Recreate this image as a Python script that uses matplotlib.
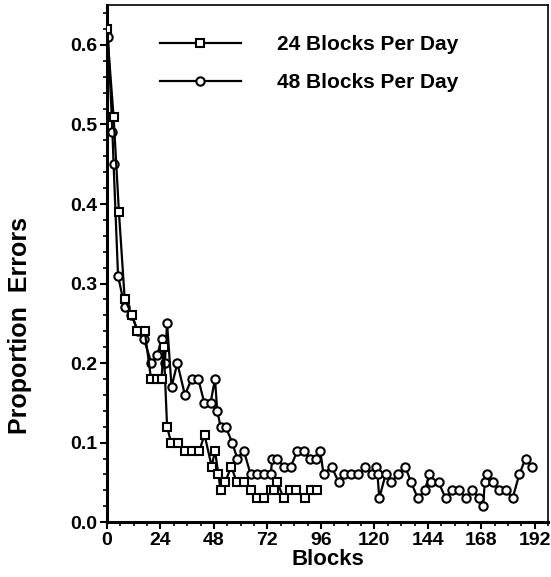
import numpy as np
import matplotlib
matplotlib.use("Agg")
import matplotlib.pyplot as plt
from matplotlib.ticker import MultipleLocator

plt.rcParams['font.family'] = ['Liberation Sans', 'DejaVu Sans']
plt.rcParams['font.weight'] = 'bold'

# 24 blocks per day (squares)
blocks24 = [0, 3, 5.4, 8, 11.4, 13.7, 17, 19.8, 22.3, 24.5, 25.5, 27, 28.8, 32, 35,
            38.3, 41.5, 43.8, 47, 48.5, 50, 51, 53, 55.8, 58.3, 61.3, 64.5, 67.5,
            70.5, 73.5, 74.8, 76.5, 79.3, 82.2, 85, 88.7, 91.5, 94.3]
err24 = [0.62, 0.51, 0.39, 0.28, 0.26, 0.24, 0.24, 0.18, 0.18, 0.18, 0.22, 0.12, 0.10,
         0.10, 0.09, 0.09, 0.09, 0.11, 0.07, 0.09, 0.06, 0.04, 0.05, 0.07, 0.05, 0.05,
         0.04, 0.03, 0.03, 0.04, 0.04, 0.05, 0.03, 0.04, 0.04, 0.03, 0.04, 0.04]

# 48 blocks per day (circles)
blocks48 = [0.5, 2.5, 3, 5, 8, 11, 14, 16.6, 20, 22.6, 24.5, 26, 27, 29, 31.6, 35, 38,
            41, 43.7, 46.5, 48.5, 49.5, 51, 53.3, 56.2, 58.5, 61.4, 64.5, 67.5, 70.5,
            73.5, 74.2, 76.5, 79.3, 82.5, 85.5, 88.5, 91, 94, 95.7, 97.2, 100.8, 104,
            106.5, 109.5, 112.8, 116, 118.8, 120.6, 121.4, 122.2, 125, 127.5, 130.5,
            133.8, 136.5, 139.5, 142.7, 144.6, 145.5, 148.8, 152, 155, 158, 161, 164,
            167, 168.8, 169.5, 170.6, 173, 176, 179, 182, 185, 187.8, 190.8]
err48 = [0.61, 0.49, 0.45, 0.31, 0.27, 0.26, 0.24, 0.23, 0.20, 0.21, 0.23, 0.20, 0.25,
         0.17, 0.20, 0.16, 0.18, 0.18, 0.15, 0.15, 0.18, 0.14, 0.12, 0.12, 0.10, 0.08,
         0.09, 0.06, 0.06, 0.06, 0.06, 0.08, 0.08, 0.07, 0.07, 0.09, 0.09, 0.08, 0.08,
         0.09, 0.06, 0.07, 0.05, 0.06, 0.06, 0.06, 0.07, 0.06, 0.07, 0.06, 0.03, 0.06,
         0.05, 0.06, 0.07, 0.05, 0.03, 0.04, 0.06, 0.05, 0.05, 0.03, 0.04, 0.04, 0.03,
         0.04, 0.03, 0.02, 0.05, 0.06, 0.05, 0.04, 0.04, 0.03, 0.06, 0.08, 0.07]

fig = plt.figure(figsize=(5.51, 5.77), dpi=100)
ax = fig.add_axes([0.194, 0.095, 0.801, 0.896])

ax.plot(blocks24, err24, color='black', lw=1.6, marker='s', markersize=6,
        markerfacecolor='white', markeredgecolor='black', markeredgewidth=1.5,
        label='24 Blocks Per Day', zorder=3)
ax.plot(blocks48, err48, color='black', lw=1.6, marker='o', markersize=6,
        markerfacecolor='white', markeredgecolor='black', markeredgewidth=1.5,
        label='48 Blocks Per Day', zorder=2)

ax.set_xlim(0, 198)
ax.set_ylim(0, 0.65)
ax.set_xticks([0, 24, 48, 72, 96, 120, 144, 168, 192])
ax.xaxis.set_minor_locator(MultipleLocator(6))
ax.set_yticks([0.0, 0.1, 0.2, 0.3, 0.4, 0.5, 0.6])
ax.set_yticklabels(['0.0', '0.1', '0.2', '0.3', '0.4', '0.5', '0.6'])
ax.yaxis.set_minor_locator(MultipleLocator(0.02))
ax.tick_params(which='major', direction='out', length=5, width=1.5, labelsize=14, pad=2)
ax.tick_params(which='minor', direction='out', length=3, width=1.2)
for s in ax.spines.values():
    s.set_linewidth(1.2)
ax.spines['left'].set_linewidth(2.2)
ax.spines['bottom'].set_linewidth(2.2)

ax.set_xlabel('Blocks', fontsize=16, fontweight='bold', labelpad=0)
ax.set_ylabel('Proportion  Errors', fontsize=18, fontweight='bold')
ax.yaxis.set_label_coords(-0.17, 0.38)

ax.legend(loc='upper left', bbox_to_anchor=(0.12, 0.942), frameon=False,
          handlelength=3.9, handletextpad=1.7, labelspacing=0.9,
          borderpad=0, borderaxespad=0,
          prop={'weight': 'bold', 'size': 15})

fig.savefig('out.png', dpi=100)
